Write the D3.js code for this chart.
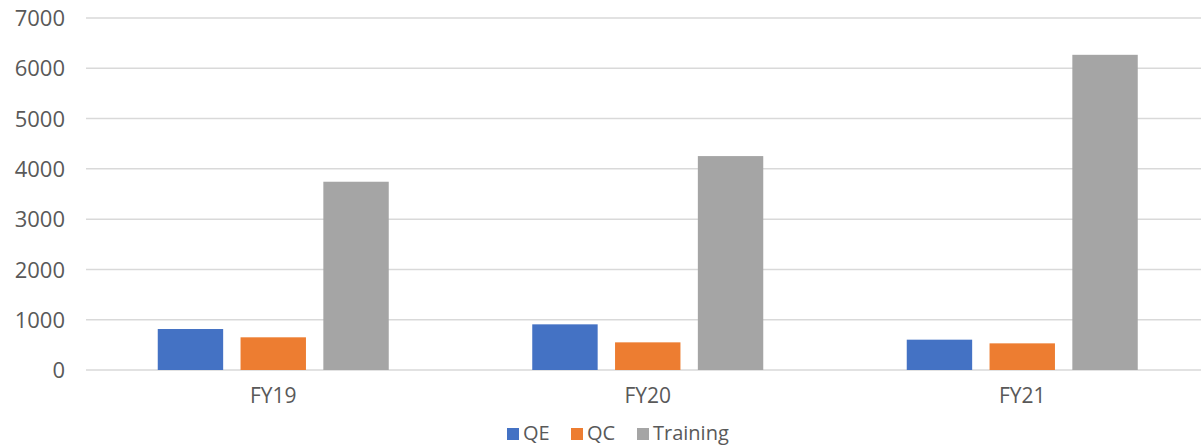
<!DOCTYPE html>
<html><head><meta charset="utf-8">
<script src="https://cdn.jsdelivr.net/npm/d3@7"></script>
<style>body{margin:0;background:#fff}svg{display:block}text{font-family:"Open Sans",sans-serif;fill:#595959}</style>
</head><body><svg id="c" width="1201" height="446"></svg>
<script>
const categories = ["FY19","FY20","FY21"];
const seriesNames = ["QE","QC","Training"];
const qe = [815, 908, 603];
const qc = [650, 550, 530];
const training = [3744, 4254, 6268];
const yTicks = [0,1000,2000,3000,4000,5000,6000,7000];
const colors = ["#4472C4","#ED7D31","#A5A5A5"];
const seriesValues = [qe, qc, training];

(function(){
const svg = d3.select("#c");
const mL = 86, mR = 1209.5, mT = 18, mB = 370;
const x0 = d3.scaleBand().domain(categories).range([mL,mR]).padding(0);
const groupW = 231;
const x1 = d3.scaleBand().domain(seriesNames).range([0,groupW]).paddingInner(0.21).paddingOuter(0);
const y = d3.scaleLinear().domain([0,7000]).range([mB,mT]);

svg.append("g").selectAll("line").data(yTicks).join("line")
  .attr("x1",mL).attr("x2",1201).attr("y1",d=>y(d)).attr("y2",d=>y(d))
  .attr("stroke","#d9d9d9").attr("stroke-width",1.5);

const yAxis = d3.axisLeft(y).tickValues(yTicks).tickSize(0).tickPadding(0).tickFormat(d3.format("d"));
const ya = svg.append("g").attr("transform","translate(65,0)").call(yAxis);
ya.select(".domain").remove();
ya.selectAll("text").style("font-size","22px").style("font-family","'Open Sans',sans-serif").attr("fill","#595959").attr("dy","0.35em");

categories.forEach((c,i)=>{
  const g = svg.append("g").attr("transform",`translate(${x0(c)+(x0.bandwidth()-groupW)/2},0)`);
  g.selectAll("rect").data(seriesNames.map((s,j)=>({s,v:seriesValues[j][i],j}))).join("rect")
    .attr("x",d=>x1(d.s)).attr("width",x1.bandwidth())
    .attr("y",d=>y(d.v)).attr("height",d=>y(0)-y(d.v))
    .attr("fill",d=>colors[d.j]);
});

const xAxis = d3.axisBottom(x0).tickSize(0).tickPadding(0);
const xa = svg.append("g").attr("transform",`translate(0,${mB})`).call(xAxis);
xa.select(".domain").remove();
xa.selectAll("text").style("font-size","21px").style("font-family","'Open Sans',sans-serif").attr("fill","#595959").attr("y",26).attr("dy","0.35em");

const legX = [507, 571, 637];
const lg = svg.append("g");
seriesNames.forEach((s,i)=>{
  lg.append("rect").attr("x",legX[i]).attr("y",428).attr("width",12).attr("height",12).attr("fill",colors[i]);
  lg.append("text").attr("x",legX[i]+16).attr("y",433).attr("dy","0.35em").style("font-size","20px").text(s);
});
})();
</script></body></html>
